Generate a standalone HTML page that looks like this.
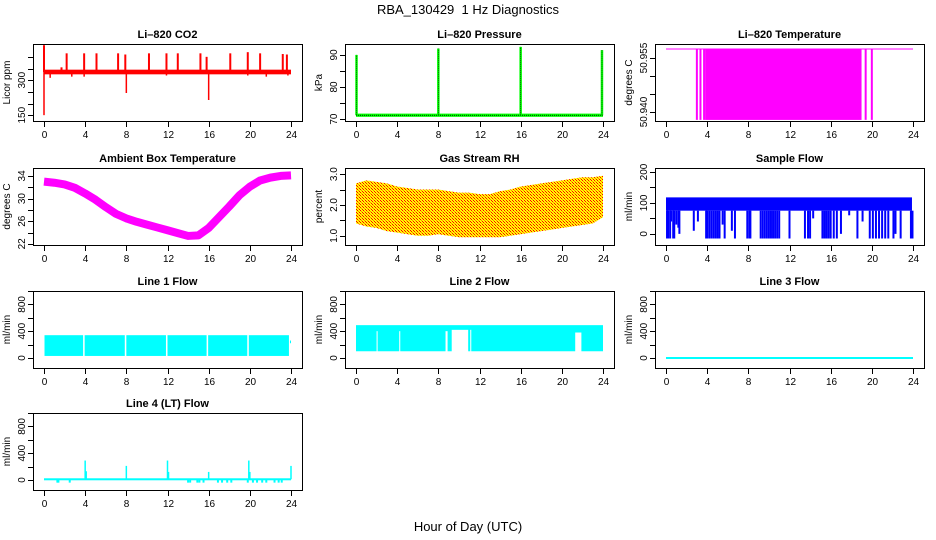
<!DOCTYPE html>
<html><head><meta charset="utf-8"><style>
body{margin:0;background:#fff}
svg{display:block;font-family:"Liberation Sans",Arial,sans-serif}
</style></head><body>
<svg id="c" width="936" height="540" xmlns="http://www.w3.org/2000/svg">
<defs>
<pattern id="rhpat" width="3" height="3" patternUnits="userSpaceOnUse">
<rect width="3" height="3" fill="#ffff00"/><rect width="1" height="1" fill="#ff0000"/><rect x="2" y="2" width="1" height="1" fill="#ff0000"/><rect x="1" y="1" width="1" height="1" fill="#ff8000"/>
</pattern>
</defs>
<text x="468" y="14" text-anchor="middle" font-size="13" style="white-space:pre">RBA_130429&#160; 1 Hz Diagnostics</text>
<text x="468" y="531" text-anchor="middle" font-size="13">Hour of Day (UTC)</text>
</svg>
<script>
// ---- data ----
const hours=[0,1,2,3,4,5,6,7,8,9,10,11,12,13,14,15,16,17,18,19,20,21,22,23,24];
const xTicks=[0,4,8,12,16,20,24];
// CO2
const co2Base=[325,345];
const co2UpHours=[0.0,1.7,2.2,3.9,5.1,7.2,7.9,10.2,11.9,13.0,15.2,15.8,18.1,19.8,21.0,23.2,23.6];
const co2UpVals=[450,355,415,415,415,415,410,415,415,415,415,400,415,420,415,412,410];
const co2DownHours=[0.0,8.0,16.0,0.6,2.7,3.9,11.9,19.8,21.6,23.7];
const co2DownVals=[150,245,215,310,315,315,320,320,315,320];
// Pressure
const presBase=71.2;
const presSpikeHours=[0.05,8.0,16.0,23.9];
const presSpikeVals=[90,92,92.5,91.5];
// Li-820 temperature
const tempHigh=50.9575, tempLow=50.9378;
const tempFill=[3.8,19.0];
const tempLines=[3.0,3.35,3.7,19.4,20.0];
// Ambient box temperature (hourly)
const ambient=[33.0,32.8,32.5,31.9,30.9,29.8,28.5,27.3,26.5,25.9,25.4,24.9,24.4,23.9,23.4,23.5,24.8,26.7,28.6,30.6,32.1,33.2,33.7,34.0,34.1];
// Gas stream RH (hourly)
const rhHigh=[2.7,2.8,2.75,2.7,2.6,2.55,2.5,2.5,2.5,2.45,2.4,2.4,2.35,2.35,2.45,2.5,2.6,2.65,2.7,2.75,2.8,2.85,2.9,2.9,2.95];
const rhLow=[1.4,1.3,1.25,1.15,1.1,1.05,1.0,1.0,1.05,1.0,0.95,0.95,0.95,0.95,0.95,1.0,1.05,1.1,1.15,1.2,1.25,1.3,1.35,1.4,1.6];
// Sample flow
const sfBand=[75,118];
const sfDrops=[0.1,0.2,0.4,0.5,0.7,0.8,1.0,1.2,1.3,2.7,3.1,3.9,4.0,4.2,4.4,4.6,4.8,5.0,5.2,5.5,5.7,6.4,6.7,7.9,8.1,8.2,9.2,9.4,9.6,9.8,10.0,10.2,10.4,10.6,10.8,11.0,12.0,13.5,13.8,14.0,14.3,15.2,15.4,15.6,15.8,16.0,16.3,16.6,17.0,17.8,18.6,19.1,19.8,20.1,20.4,20.7,21.0,21.3,21.6,22.1,22.3,22.8,23.8,23.95];
const sfDropVals=[-15,-15,-15,40,-15,-15,30,20,0,10,40,-15,-15,-15,-15,-15,-15,-15,-15,30,-15,10,-15,-15,-15,-15,-15,-15,-15,-15,-15,-15,-15,-15,-15,-15,-15,-15,-15,-15,50,-15,-15,-15,-15,-15,-15,-15,0,60,-15,40,-15,-15,-15,-15,-15,-15,-15,-15,0,-15,-15,-15];
// Line 1 flow
const l1Segs=[[0.05,3.8],[3.95,7.85],[8.0,11.85],[12.0,15.8],[15.95,19.75],[19.9,23.8]];
const l1Band=[30,340];
// Line 2 flow
const l2Band=[100,490];
const l2GapStart=[9.3,2.0,4.2,8.7,21.3,11.1];
const l2GapEnd=[10.9,2.1,4.3,8.9,21.9,11.2];
const l2GapVal=[420,400,400,400,380,420];
// Line 3 flow
const l3Val=0;
// Line 4 flow
const l4Base=10;
const l4SpikeHours=[4.0,4.1,8.0,12.0,12.1,16.0,19.9,20.0,24.0];
const l4SpikeVals=[290,130,210,290,120,120,290,120,210];
const l4DipHours=[1.3,1.4,2.5,14.0,14.2,14.9,15.1,15.5,16.9,17.3,17.8,18.2,19.8,20.3,20.7,21.2,21.6,22.4,22.8,23.1];
const l4DipVals=[-40,-40,-40,-40,-40,-40,-40,-40,-40,-40,-40,-40,-40,-40,-40,-40,-40,-40,-40,-40];

// ---- drawing ----
const svg=document.getElementById('c');
const NS='http://www.w3.org/2000/svg';
const colL=[33,345,655], rowT=[44,168,291,413], W=269, H=77;
function mk(tag,attrs,parent){const e=document.createElementNS(NS,tag);for(const k in attrs)e.setAttribute(k,attrs[k]);(parent||svg).appendChild(e);return e;}
function panel(c,r,title,ylab,dom,yticks,ylabels,name){
  const L=colL[c],T=rowT[r];
  const g=mk('g',{});
  
  
  const xs=h=>L+11+h*(247/24);
  const ys=v=>T+H-(v-dom[0])/(dom[1]-dom[0])*H;
  const t=mk('text',{x:L+W/2,y:T-6,'text-anchor':'middle','font-size':11,'font-weight':'bold'},g);t.textContent=title;
  
  
  const yl=mk('text',{transform:`translate(${L-23},${T+H/2}) rotate(-90)`,'text-anchor':'middle','font-size':10},g);yl.textContent=ylab;
  
  
  const plot=mk('g',{},g);
  
  
  const ax=mk('g',{stroke:'#000','stroke-width':1,fill:'none'},g);
  mk('rect',{x:L+0.5,y:T+0.5,width:W,height:H},ax);
  xTicks.forEach(h=>{const x=Math.round(xs(h))+0.5;mk('line',{x1:x,x2:x,y1:T+H+1,y2:T+H+6},ax);
    const tt=mk('text',{x:x,y:T+H+17,'text-anchor':'middle','font-size':10,fill:'#000',stroke:'none'},g);tt.textContent=h;
    
    });
  yticks.forEach(v=>{const y=Math.round(ys(v))+0.5;mk('line',{x1:L-5,x2:L,y1:y,y2:y},ax);});
  ylabels.forEach(v=>{const y=ys(v);const tt=mk('text',{transform:`translate(${L-8},${y}) rotate(-90)`,'text-anchor':'middle','font-size':10},g);tt.textContent=v;
    
    });
  return {xs,ys,plot};
}
function vline(p,h,v1,v2,col,w){mk('line',{x1:p.xs(h),x2:p.xs(h),y1:p.ys(v1),y2:p.ys(v2),stroke:col,'stroke-width':w||1.5},p.plot);}
function band(p,h0,h1,v0,v1,col){const x0=p.xs(h0),x1=p.xs(h1),y0=p.ys(v1),y1=p.ys(v0);return mk('rect',{x:x0,y:y0,width:x1-x0,height:y1-y0,fill:col},p.plot);}

// CO2
let p=panel(0,0,'Li\u2013820 CO2','Licor ppm',[125,455],[150,200,250,300,350,400],['150','300'],'co2-panel');
band(p,0,24,co2Base[0],co2Base[1],'#ff0000');
co2UpHours.forEach((h,i)=>vline(p,h,335,co2UpVals[i],'#ff0000',2));
co2DownHours.forEach((h,i)=>vline(p,h,335,co2DownVals[i],'#ff0000',1.5));
// Pressure
p=panel(1,0,'Li\u2013820 Pressure','kPa',[69.4,93.4],[70,75,80,85,90],['70','80','90'],'pressure-panel');
band(p,0,24,presBase-0.5,presBase+0.5,'#00ff00');
mk('line',{x1:p.xs(0),x2:p.xs(24),y1:p.ys(presBase),y2:p.ys(presBase),stroke:'#000','stroke-width':0.7,'stroke-dasharray':'1,1'},p.plot);
presSpikeHours.forEach((h,i)=>{vline(p,h,presBase,presSpikeVals[i],'#00ff00',2.5);mk('line',{x1:p.xs(h),x2:p.xs(h),y1:p.ys(presBase),y2:p.ys(presSpikeVals[i]),stroke:'#000','stroke-width':0.6,'stroke-dasharray':'1,1'},p.plot);});
// Temperature
p=panel(2,0,'Li\u2013820 Temperature','degrees C',[50.9375,50.9589],[50.940,50.945,50.950,50.955],['50.940','50.955'],'li820-temperature-panel');
mk('line',{x1:p.xs(0),x2:p.xs(24),y1:p.ys(tempHigh),y2:p.ys(tempHigh),stroke:'#ff00ff','stroke-width':1},p.plot);
band(p,tempFill[0],tempFill[1],tempLow,tempHigh,'#ff00ff');
tempLines.forEach(h=>vline(p,h,tempLow,tempHigh,'#ff00ff',2));
// Ambient
p=panel(0,1,'Ambient Box Temperature','degrees C',[21.8,35.4],[22,24,26,28,30,32,34],['22','26','30','34'],'ambient-temperature-panel');
mk('polyline',{points:hours.map((h,i)=>p.xs(h)+','+p.ys(ambient[i])).join(' '),fill:'none',stroke:'#ff00ff','stroke-width':8,'stroke-linejoin':'round'},p.plot);
// RH
p=panel(1,1,'Gas Stream RH','percent',[0.70,3.2],[1.0,1.5,2.0,2.5,3.0],['1.0','2.0','3.0'],'gas-stream-rh-panel');
mk('polygon',{points:hours.map((h,i)=>p.xs(h)+','+p.ys(rhHigh[i])).concat(hours.slice().reverse().map((h,j)=>p.xs(h)+','+p.ys(rhLow[hours.length-1-j]))).join(' '),fill:'url(#rhpat)'},p.plot);
// Sample flow
p=panel(2,1,'Sample Flow','ml/min',[-36,213],[0,50,100,150,200],['0','100','200'],'sample-flow-panel');
band(p,0,23.9,sfBand[0],sfBand[1],'#0000ff');
sfDrops.forEach((h,i)=>vline(p,h,sfBand[0],sfDropVals[i],'#0000ff',2));
// Line 1
p=panel(0,2,'Line 1 Flow','ml/min',[-150,1000],[0,200,400,600,800,1000],['0','400','800'],'line1-flow-panel');
l1Segs.forEach(s=>band(p,s[0],s[1],l1Band[0],l1Band[1],'#00ffff'));
band(p,23.9,24,220,260,'#00ffff');
// Line 2
p=panel(1,2,'Line 2 Flow','ml/min',[-150,1000],[0,200,400,600,800,1000],['0','400','800'],'line2-flow-panel');
band(p,0,24,l2Band[0],l2Band[1],'#00ffff');
l2GapStart.forEach((s,i)=>band(p,s,l2GapEnd[i],l2Band[0]-5,l2GapVal[i],'#ffffff'));
// Line 3
p=panel(2,2,'Line 3 Flow','ml/min',[-150,1000],[0,200,400,600,800,1000],['0','400','800'],'line3-flow-panel');
mk('line',{x1:p.xs(0),x2:p.xs(24),y1:p.ys(l3Val),y2:p.ys(l3Val),stroke:'#00ffff','stroke-width':2},p.plot);
// Line 4
p=panel(0,3,'Line 4 (LT) Flow','ml/min',[-150,1000],[0,200,400,600,800,1000],['0','400','800'],'line4-flow-panel');
band(p,0,24,l4Base-15,l4Base+15,'#00ffff');
l4SpikeHours.forEach((h,i)=>vline(p,h,l4Base,l4SpikeVals[i],'#00ffff',1.5));
l4DipHours.forEach((h,i)=>vline(p,h,l4Base,l4DipVals[i],'#00ffff',2));
</script>
</body></html>
